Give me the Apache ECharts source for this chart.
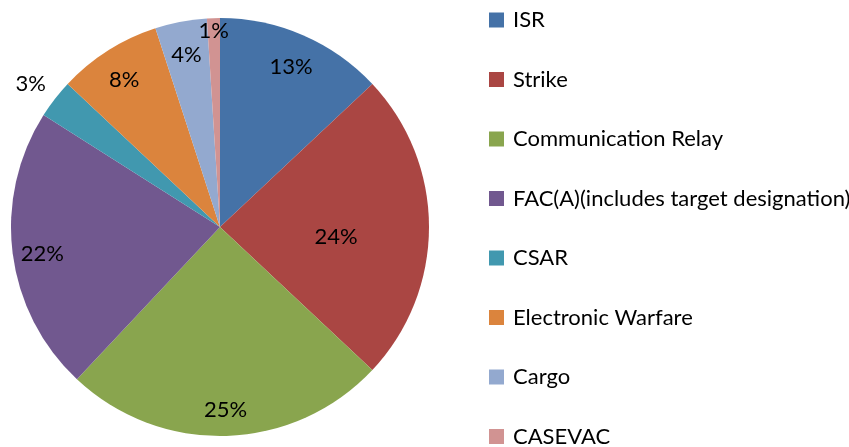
<!DOCTYPE html>
<html>
<head>
<meta charset="utf-8">
<script src="https://cdn.jsdelivr.net/npm/echarts@6/dist/echarts.min.js"></script>
<style>
  html, body { margin: 0; padding: 0; background: #fff; }
  #main { width: 849px; height: 447px; }
</style>
</head>
<body>
<div id="main"></div>
<script>
  // mission types, clockwise from 12 o'clock
  var categories = ['ISR', 'Strike', 'Communication Relay', 'FAC(A)(includes target designation)',
                    'CSAR', 'Electronic Warfare', 'Cargo', 'CASEVAC'];
  var shares = [13, 24, 25, 22, 3, 8, 4, 1];
  var colors = ['#4572A7', '#AA4643', '#89A54E', '#71588F', '#4198AF', '#DB843D', '#93A9CF', '#D19392'];

  var font = 'Lato, "Open Sans", sans-serif';
  var CX = 220, CY = 227, R = 209;
  var LY = CY + 4; // Lato glyphs sit high in their box, nudge label rings down

  // Excel "best fit" put labels at different distances; each transparent ring carries some of them
  var labelRing = {
    'ISR': 'mid', 'Communication Relay': 'mid', 'FAC(A)(includes target designation)': 'mid',
    'Electronic Warfare': 'mid', 'Cargo': 'mid',
    'CSAR': 'far', 'CASEVAC': 'edge', 'Strike': 'deep'
  };

  var pieData = categories.map(function (name, i) {
    return { name: name, value: shares[i], itemStyle: { color: colors[i] } };
  });

  function ringData(ring) {
    return categories.map(function (name, i) {
      var item = { name: name, value: shares[i] };
      if (labelRing[name] !== ring) item.label = { show: false };
      return item;
    });
  }

  function labelSeries(ring, center, radius) {
    return {
      type: 'pie',
      center: center,
      radius: radius,
      startAngle: 90,
      clockwise: true,
      silent: true,
      percentPrecision: 0,
      itemStyle: { color: 'rgba(0,0,0,0)' },
      emphasis: { disabled: true },
      label: {
        show: true,
        position: 'inside',
        formatter: '{d}%',
        fontFamily: font,
        fontSize: 22,
        color: '#000'
      },
      labelLine: { show: false },
      data: ringData(ring)
    };
  }

  var myChart = echarts.init(document.getElementById('main'));
  var option = {
    animation: false,
    legend: {
      orient: 'vertical',
      left: 489,
      top: 9,
      height: 480,
      padding: 0,
      icon: 'rect',
      itemWidth: 15,
      itemHeight: 15,
      itemGap: 37.5,
      data: categories,
      textStyle: {
        fontFamily: font,
        fontSize: 22,
        color: '#000',
        padding: [0, 0, 0, 4]
      }
    },
    series: [
      {
        type: 'pie',
        center: [CX, CY],
        radius: R,
        startAngle: 90,
        clockwise: true,
        silent: true,
        label: { show: false },
        labelLine: { show: false },
        data: pieData
      },
      labelSeries('mid', [CX, LY], [143, R]),
      labelSeries('edge', [CX, LY], [177, 217]),
      labelSeries('far', [CX, LY], [214, 259]),
      labelSeries('deep', [CX, CY + 10], [17, R])
    ]
  };
  myChart.setOption(option);
</script>
</body>
</html>
